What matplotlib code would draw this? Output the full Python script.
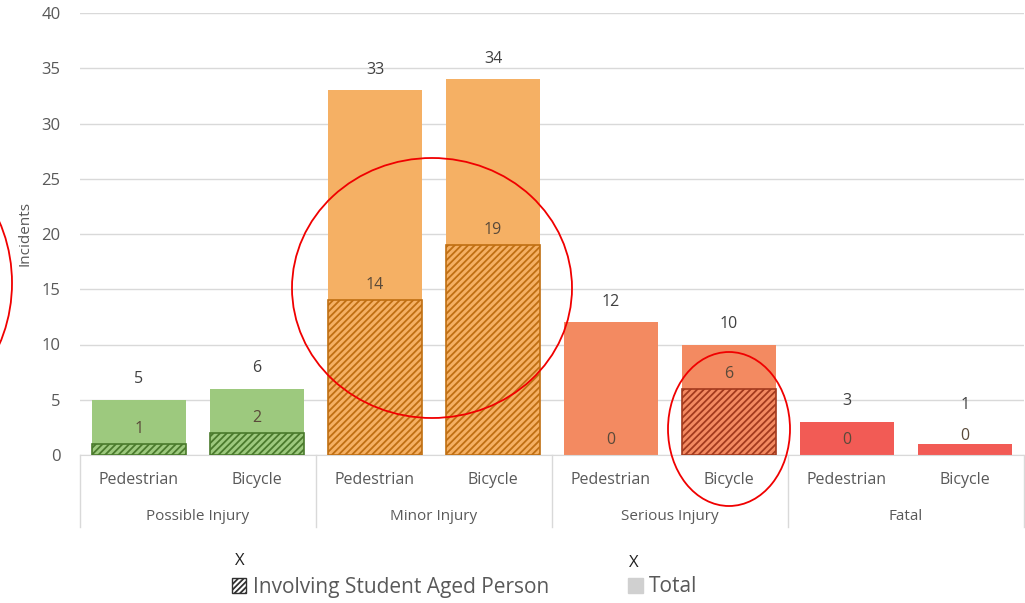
import matplotlib.pyplot as plt
import numpy as np
from matplotlib.patches import Patch, Ellipse
from matplotlib.lines import Line2D

plt.rcParams['font.family'] = ['Open Sans', 'DejaVu Sans']
plt.rcParams['hatch.linewidth'] = 1.3

groups = ['Possible Injury', 'Minor Injury', 'Serious Injury', 'Fatal']
modes = ['Pedestrian', 'Bicycle']
total = [5, 6, 33, 34, 12, 10, 3, 1]
student = [1, 2, 14, 19, 0, 6, 0, 0]

fill_colors = ['#9DC97E', '#9DC97E', '#F5B064', '#F5B064',
               '#F38A61', '#F38A61', '#F25B55', '#F25B55']
hatch_colors = ['#4A7A2C', '#4A7A2C', '#C06F12', '#C06F12',
                '#A33A1E', '#A33A1E', '#A82E2A', '#A82E2A']
text_col = '#595959'

fig = plt.figure(figsize=(10.25, 6.03), dpi=100)
ax = fig.add_axes([80 / 1025, (603 - 455) / 603, 944 / 1025, 442 / 603])

x = np.arange(len(total))
ax.bar(x, total, width=0.8, color=fill_colors, zorder=2)
for i in range(len(x)):
    if student[i] > 0:
        ax.bar(x[i], student[i], width=0.8, facecolor=fill_colors[i],
               edgecolor=hatch_colors[i], hatch='/////', linewidth=1.2, zorder=3)

for i in range(len(x)):
    off_s, off_t = 5, 9
    if total[i] - student[i] < 2:
        # labels would collide, push them apart like Excel does
        off_s, off_t = 8, 22
    ax.annotate(str(total[i]), (x[i], total[i]), xytext=(0, off_t),
                textcoords='offset points', ha='center', va='bottom',
                fontsize=11.5, color='#404040')
    ax.annotate(str(student[i]), (x[i], student[i]), xytext=(0, off_s),
                textcoords='offset points', ha='center', va='bottom',
                fontsize=11.5, color='#5a4a3a')

ax.set_xlim(-0.5, len(x) - 0.5)
ax.set_ylim(0, 40)
ax.set_yticks(range(0, 41, 5))
ax.yaxis.grid(True, color='#D9D9D9', linewidth=1, zorder=0)
ax.set_axisbelow(True)
for s in ['top', 'right', 'left']:
    ax.spines[s].set_visible(False)
ax.spines['bottom'].set_color('#D9D9D9')
ax.tick_params(axis='y', length=0, labelsize=12, labelcolor=text_col, pad=14)
ax.tick_params(axis='x', length=0, labelbottom=False)
ax.set_ylabel('Incidents', fontsize=11, color=text_col, labelpad=6)

# two-level category axis
trans = ax.get_xaxis_transform()
for i in range(len(x)):
    ax.text(x[i], -0.056, modes[i % 2], transform=trans, ha='center',
            va='center', fontsize=11.5, color=text_col)
for g in range(len(groups)):
    ax.text(2 * g + 0.5, -0.14, groups[g], transform=trans, ha='center',
            va='center', fontsize=11, color=text_col)
for b in range(len(groups) + 1):
    ax.add_line(Line2D([2 * b - 0.5, 2 * b - 0.5], [0, -0.163], transform=trans,
                       color='#D9D9D9', linewidth=1, clip_on=False))

# legend
handles = [Patch(facecolor='white', edgecolor='#303030', hatch='//////', linewidth=1),
           Patch(facecolor='#D0D0D0', edgecolor='#D0D0D0')]
fig.legend(handles, ['Involving Student Aged Person', 'Total'], ncol=2,
           loc='center left', bbox_to_anchor=(213 / 1025, 1 - 587 / 603),
           frameon=False, fontsize=15, handlelength=0.7, handleheight=0.7,
           handletextpad=0.3, columnspacing=3.8, labelcolor=text_col)
fig.text(240 / 1025, 1 - 561 / 603, 'X', ha='center', va='center', fontsize=12, color='#202020')
fig.text(634 / 1025, 1 - 563 / 603, 'X', ha='center', va='center', fontsize=12, color='#202020')

# red annotation ellipses
for cx, cy, w, h in [(432, 288, 280, 260), (-100, 283, 224, 266), (729, 429, 122, 154)]:
    fig.add_artist(Ellipse((cx / 1025, 1 - cy / 603), w / 1025, h / 603,
                           transform=fig.transFigure, fill=False,
                           edgecolor='#F00000', linewidth=1.3, zorder=10))

fig.savefig('out.png', dpi=100)
